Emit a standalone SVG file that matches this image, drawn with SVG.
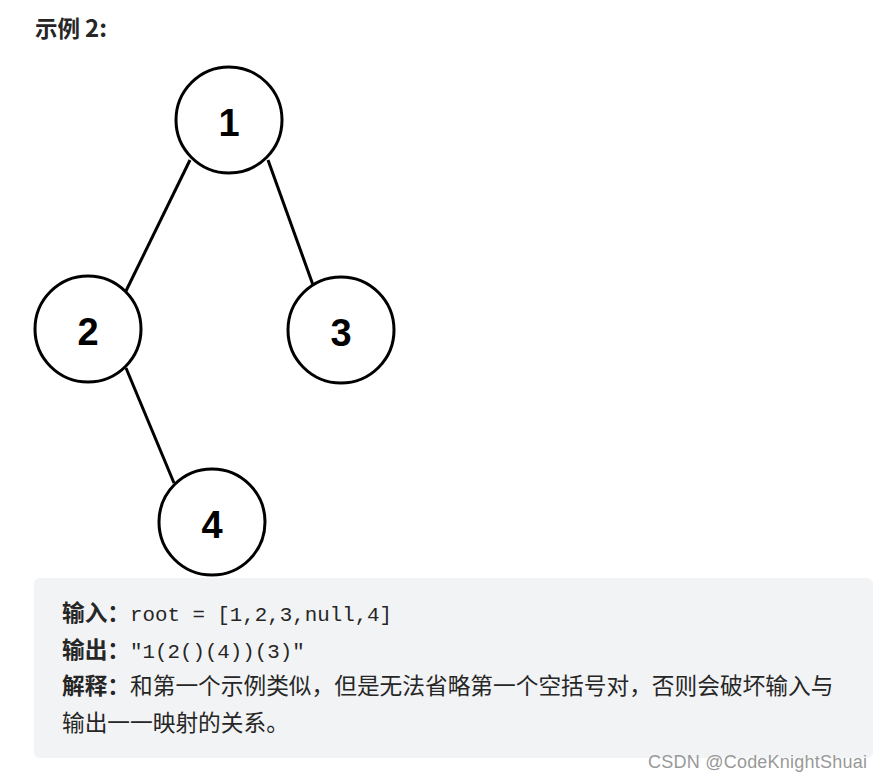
<svg xmlns="http://www.w3.org/2000/svg" width="883" height="781" viewBox="0 0 883 781">
<style>
.node circle{fill:#fff;stroke:#000;stroke-width:3}
.node text{font-family:"Liberation Sans",Arial,sans-serif;font-weight:bold;font-size:38px;fill:#000;text-anchor:middle}
.edge{stroke:#000;stroke-width:3;fill:none}
.cjk{font-family:"Noto Sans CJK SC",sans-serif;font-size:22.7px;fill:#262626}
.b{font-weight:bold}
.mono{font-family:"Liberation Mono","DejaVu Sans Mono",monospace;font-size:20.8px;fill:#262626}
</style>
<rect width="883" height="781" fill="#fff"/>
<text x="35" y="37" class="cjk b" style="font-size:22.5px">示例 <tspan font-size="24">2:</tspan></text>
<g id="connectors">
<line class="edge" x1="190" y1="160" x2="125" y2="293"/>
<line class="edge" x1="268" y1="160" x2="313" y2="285"/>
<line class="edge" x1="126" y1="368" x2="174" y2="483"/>
</g>
<g id="node1" class="node"><circle cx="229" cy="120" r="53"/><text x="229" y="136">1</text></g>
<g id="node2" class="node"><circle cx="88" cy="329" r="53"/><text x="88" y="345">2</text></g>
<g id="node3" class="node"><circle cx="341" cy="330" r="53"/><text x="341" y="346">3</text></g>
<g id="node4" class="node"><circle cx="212" cy="522" r="53"/><text x="212" y="538">4</text></g>
<rect x="34" y="578" width="839" height="180" rx="6" fill="#f2f3f5"/>
<text x="62" y="621" class="cjk b">输入：</text>
<text x="130" y="621" class="mono">root = [1,2,3,null,4]</text>
<text x="62" y="658" class="cjk b">输出：</text>
<text x="130" y="658" class="mono">"1(2()(4))(3)"</text>
<text x="62" y="694" class="cjk"><tspan class="b">解释：</tspan>和第一个示例类似，但是无法省略第一个空括号对，否则会破坏输入与</text>
<text x="62" y="731" class="cjk">输出一一映射的关系。</text>
<text x="648" y="768" font-family="Liberation Sans,Arial,sans-serif" font-size="18" fill="#999" textLength="219">CSDN @CodeKnightShuai</text>
</svg>
